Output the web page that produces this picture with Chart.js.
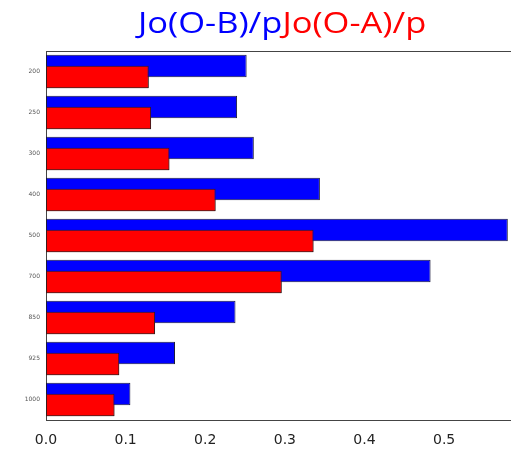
<!DOCTYPE html>
<html>
<head>
<meta charset="utf-8">
<script src="https://cdn.jsdelivr.net/npm/chart.js@4"></script>
<style>
  html, body { margin: 0; padding: 0; background: #fff; }
  #wrap { position: relative; width: 511px; height: 461px; }
  #title { position: absolute; left: 138px; top: 3px; white-space: nowrap;
           font-family: "Open Sans", "Noto Sans", sans-serif; font-size: 29px; line-height: 38px;
           transform: scaleX(1.19); transform-origin: left top; z-index: 2; }
</style>
</head>
<body>
<div id="wrap">
  <div id="title"><span style="color:#0000ff">Jo(O-B)/p</span><span style="color:#ff0000">Jo(O-A)/p</span></div>
  <canvas id="chart-1" width="511" height="461"></canvas>
</div>
<script>
var levels = ['200', '250', '300', '400', '500', '700', '850', '925', '1000'];
var obValues = [0.252, 0.240, 0.261, 0.344, 0.580, 0.483, 0.238, 0.162, 0.106];
var oaValues = [0.129, 0.132, 0.155, 0.213, 0.336, 0.296, 0.137, 0.092, 0.086];
var xTicks = [0.0, 0.1, 0.2, 0.3, 0.4, 0.5];

var chart1 = document.getElementById('chart-1').getContext('2d');

// red bars sit on top of the blue ones, so draw them again last
var redOnTop = {
    id: 'redOnTop',
    afterDatasetsDraw: function (chart) {
        chart.getDatasetMeta(1).controller.draw();
    }
};

var myChart = new Chart(chart1, {
    type: 'bar',
    data: {
        labels: levels,
        datasets: [{
            label: 'Jo(O-B)/p',
            data: obValues,
            backgroundColor: '#0000ff',
            borderColor: '#1a1a3a',
            borderWidth: 1,
            borderSkipped: false
        }, {
            label: 'Jo(O-A)/p',
            data: oaValues,
            backgroundColor: '#ff0000',
            borderColor: '#3a1a1a',
            borderWidth: 1,
            borderSkipped: false
        }]
    },
    plugins: [redOnTop],
    options: {
        indexAxis: 'y',
        responsive: false,
        animation: false,
        categoryPercentage: 0.537,
        barPercentage: 2.05,
        layout: {
            padding: { top: 51, right: 0, left: 0, bottom: 0 }
        },
        plugins: {
            legend: { display: false },
            tooltip: { enabled: false }
        },
        scales: {
            x: {
                min: 0,
                max: 0.584,
                afterBuildTicks: function (s) {
                    s.ticks = xTicks.map(function (v) { return { value: v }; });
                },
                afterFit: function (s) { s.height = 41; },
                ticks: {
                    includeBounds: false,
                    color: '#222',
                    padding: 4,
                    font: { family: 'DejaVu Sans', size: 14 },
                    callback: function (v) { return v.toFixed(1); }
                },
                grid: { display: false },
                border: { display: true, color: '#444', width: 1 }
            },
            x2: {
                position: 'top',
                min: 0,
                max: 0.584,
                afterFit: function (s) { s.height = 0; },
                ticks: { display: false },
                grid: { display: false },
                border: { display: true, color: '#444', width: 1 }
            },
            y: {
                afterFit: function (s) { s.width = 46; },
                ticks: {
                    color: '#555',
                    padding: 6,
                    font: { family: 'DejaVu Sans', size: 6 }
                },
                grid: { display: false, drawTicks: false },
                border: { display: true, color: '#444', width: 1 }
            }
        }
    }
});
</script>
</body>
</html>
